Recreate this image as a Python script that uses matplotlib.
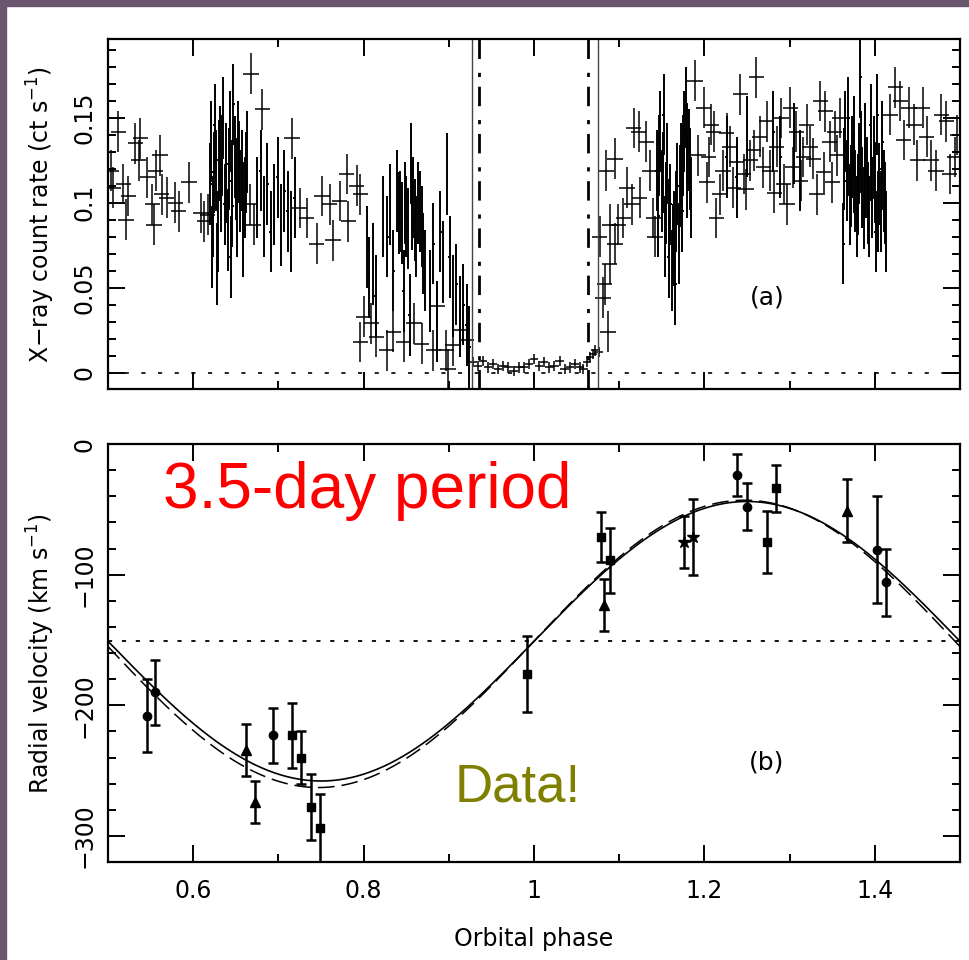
import numpy as np
import matplotlib
matplotlib.use("Agg")
import matplotlib.pyplot as plt
from matplotlib.patches import Rectangle
from matplotlib.ticker import MultipleLocator

plt.rcParams['font.family'] = ['DejaVu Sans']
plt.rcParams['lines.scale_dashes'] = False

# ---- panel (a): X-ray light curve ----
# sparse bins (wide crosses)
wide_phase = [0.504, 0.506, 0.512, 0.518, 0.521, 0.524, 0.532, 0.536, 0.538, 0.546,
              0.552, 0.554, 0.556, 0.561, 0.563, 0.569, 0.579, 0.583, 0.595, 0.609,
              0.613, 0.617, 0.668, 0.681, 0.667, 0.671, 0.716, 0.725, 0.733, 0.745,
              0.751, 0.760, 0.764, 0.772, 0.780, 0.782, 0.792, 0.796,
              0.796, 0.800, 0.809, 0.815, 0.827, 0.835, 0.847, 0.859, 0.868, 0.882,
              0.886, 0.897, 0.905, 0.913, 0.921, 0.899,
              1.077, 1.081, 1.083, 1.087, 1.089, 1.095, 1.089, 1.085, 1.095, 1.099,
              1.105, 1.109, 1.115, 1.117, 1.123, 1.124, 1.132, 1.136, 1.140, 1.142,
              1.189, 1.199, 1.205, 1.211, 1.214, 1.222, 1.230, 1.234, 1.242, 1.246,
              1.254, 1.261, 1.265, 1.273, 1.277, 1.285, 1.293, 1.297, 1.301, 1.308,
              1.316, 1.324, 1.332, 1.336, 1.342, 1.347, 1.353, 1.359,
              1.193, 1.203, 1.208, 1.218, 1.226, 1.238, 1.249, 1.258, 1.269, 1.282,
              1.290, 1.304, 1.313, 1.320, 1.328, 1.340, 1.350, 1.356,
              1.418, 1.424, 1.430, 1.434, 1.440, 1.446, 1.450, 1.456, 1.461, 1.466,
              1.472, 1.478, 1.484, 1.488, 1.494, 1.497]
wide_rate = [0.119, 0.109, 0.142, 0.111, 0.090, 0.104, 0.135, 0.125, 0.138, 0.115,
             0.099, 0.087, 0.119, 0.128, 0.105, 0.103, 0.100, 0.095, 0.112, 0.094,
             0.089, 0.093, 0.176, 0.155, 0.099, 0.087, 0.138, 0.097, 0.091, 0.076,
             0.104, 0.099, 0.078, 0.101, 0.117, 0.089, 0.110, 0.105,
             0.018, 0.033, 0.029, 0.021, 0.013, 0.024, 0.018, 0.029, 0.017, 0.013,
             0.039, 0.013, 0.016, 0.025, 0.019, 0.002,
             0.080, 0.044, 0.052, 0.024, 0.064, 0.076, 0.087, 0.119, 0.126, 0.087,
             0.091, 0.109, 0.099, 0.144, 0.142, 0.103, 0.136, 0.119, 0.091, 0.080,
             0.172, 0.156, 0.127, 0.142, 0.091, 0.119, 0.133, 0.109, 0.164, 0.117,
             0.125, 0.174, 0.139, 0.148, 0.119, 0.133, 0.111, 0.099, 0.156, 0.142,
             0.127, 0.133, 0.105, 0.160, 0.154, 0.136, 0.142, 0.150,
             0.128, 0.112, 0.146, 0.105, 0.141, 0.124, 0.108, 0.131, 0.121, 0.106,
             0.150, 0.121, 0.113, 0.146, 0.126, 0.118, 0.112, 0.128,
             0.152, 0.168, 0.160, 0.137, 0.156, 0.146, 0.125, 0.156, 0.139, 0.125,
             0.119, 0.152, 0.148, 0.117, 0.127, 0.140]

# dense bins (narrow crosses)
narrow_phase = [0.620, 0.621, 0.622, 0.623, 0.625, 0.627, 0.628, 0.629, 0.631, 0.633,
                0.635, 0.637, 0.639, 0.641, 0.643, 0.644, 0.645, 0.647, 0.649, 0.651,
                0.653, 0.655, 0.657, 0.659, 0.661, 0.663,
                0.624, 0.630, 0.634, 0.638, 0.642, 0.646, 0.650, 0.654, 0.658, 0.662,
                0.675, 0.679, 0.683, 0.687, 0.691, 0.695, 0.699, 0.703, 0.707, 0.711,
                0.715, 0.719,
                0.804, 0.806, 0.811, 0.814, 0.823, 0.828, 0.831, 0.835, 0.839, 0.843,
                0.847, 0.850, 0.854, 0.856, 0.858, 0.862, 0.866, 0.870, 0.872, 0.878,
                0.882, 0.886, 0.890, 0.893, 0.898, 0.901, 0.905, 0.909, 0.913, 0.917,
                0.921, 0.924,
                0.841, 0.845, 0.849, 0.852, 0.857, 0.860, 0.864, 0.868,
                1.144, 1.146, 1.148, 1.150, 1.152, 1.154, 1.156, 1.158, 1.160, 1.162,
                1.164, 1.166, 1.168, 1.170, 1.172, 1.174, 1.176, 1.178, 1.180, 1.182,
                1.184,
                1.147, 1.151, 1.155, 1.159, 1.163, 1.167, 1.171, 1.175, 1.179, 1.183,
                1.226, 1.238, 1.250, 1.281, 1.289, 1.305, 1.312,
                1.363, 1.365, 1.367, 1.369, 1.371, 1.373, 1.375, 1.377, 1.379, 1.381,
                1.383, 1.385, 1.387, 1.389, 1.391, 1.393, 1.395, 1.397, 1.399, 1.401,
                1.403, 1.405, 1.407, 1.409, 1.411, 1.413,
                1.364, 1.368, 1.372, 1.376, 1.380, 1.384, 1.388, 1.392, 1.396, 1.400,
                1.404, 1.408, 1.412]
narrow_rate = [0.111, 0.136, 0.074, 0.092, 0.146, 0.119, 0.064, 0.083, 0.133, 0.107,
               0.150, 0.099, 0.123, 0.084, 0.142, 0.068, 0.113, 0.158, 0.127, 0.092,
               0.136, 0.107, 0.119, 0.080, 0.103, 0.130,
               0.118, 0.125, 0.128, 0.112, 0.120, 0.098, 0.114, 0.124, 0.100, 0.118,
               0.103, 0.119, 0.092, 0.111, 0.083, 0.099, 0.115, 0.087, 0.107, 0.095,
               0.083, 0.103,
               0.074, 0.056, 0.064, 0.045, 0.092, 0.080, 0.099, 0.060, 0.107, 0.095,
               0.048, 0.092, 0.034, 0.123, 0.103, 0.080, 0.095, 0.070, 0.060, 0.048,
               0.076, 0.030, 0.083, 0.065, 0.117, 0.068, 0.045, 0.052, 0.033, 0.040,
               0.028, 0.015,
               0.094, 0.088, 0.100, 0.085, 0.096, 0.090, 0.100, 0.086,
               0.119, 0.092, 0.142, 0.107, 0.152, 0.080, 0.123, 0.068, 0.099, 0.060,
               0.083, 0.052, 0.111, 0.076, 0.123, 0.095, 0.142, 0.156, 0.115, 0.131,
               0.103,
               0.128, 0.118, 0.100, 0.090, 0.075, 0.095, 0.110, 0.128, 0.135, 0.120,
               0.127, 0.115, 0.139, 0.142, 0.127, 0.135, 0.119,
               0.076, 0.142, 0.113, 0.150, 0.099, 0.127, 0.139, 0.107, 0.092, 0.123,
               0.174, 0.109, 0.097, 0.135, 0.115, 0.092, 0.146, 0.103, 0.127, 0.083,
               0.152, 0.111, 0.095, 0.136, 0.107, 0.083,
               0.120, 0.128, 0.110, 0.118, 0.105, 0.130, 0.115, 0.100, 0.125, 0.112,
               0.095, 0.120, 0.100]

# eclipse bins
ecl_phase = [0.928, 0.934, 0.940, 0.946, 0.952, 0.958, 0.964, 0.970, 0.976, 0.982,
             0.988, 0.994, 1.000, 1.006, 1.012, 1.018, 1.024, 1.030, 1.036, 1.042,
             1.048, 1.054, 1.058, 1.062, 1.066, 1.069, 1.072, 1.076]
ecl_rate = [0.006, 0.004, 0.007, 0.003, 0.005, 0.002, 0.004, 0.003, 0.001, 0.003,
            0.003, 0.005, 0.008, 0.004, 0.006, 0.003, 0.004, 0.007, 0.002, 0.003,
            0.005, 0.003, 0.002, 0.006, 0.009, 0.011, 0.013, 0.012]

wide_dphase, wide_drate = 0.009, 0.012
narrow_dphase, narrow_drate = 0.0015, 0.024
ecl_dphase, ecl_drate = 0.005, 0.003

ingress_solid, egress_solid = 0.927, 1.075
ingress_dd, egress_dd = 0.935, 1.063

# ---- panel (b): radial velocities ----
circ_phase = [0.5454, 0.5556, 0.6937, 1.2382, 1.2500, 1.4026, 1.4131]
circ_vel = [-208, -190, -223, -24, -48, -81, -106]
circ_err = [28, 25, 21, 16, 18, 41, 26]

sq_phase = [0.7156, 0.7261, 0.7382, 0.7488, 0.9921, 1.0782, 1.0892, 1.2735, 1.2844]
sq_vel = [-223, -240, -278, -294, -176, -71, -89, -75, -34]
sq_err = [25, 20, 25, 26, 29, 19, 25, 24, 18]

tri_phase = [0.662, 0.673, 1.0818, 1.3669]
tri_vel = [-234, -274, -123, -51]
tri_err = [20, 16, 20, 24]

star_phase = [1.176, 1.1862]
star_vel = [-75, -71]
star_err = [20, 29]

# orbit fits
gamma, K = -151.0, 107.0
gamma_d, K_d, shift_d = -153.0, 110.0, 0.003

fig = plt.figure(figsize=(9.69, 9.6), dpi=100)
fig.patch.set_facecolor('white')
purple = '#6b566f'
fig.add_artist(Rectangle((0, 1 - 6 / 960), 1, 6 / 960, transform=fig.transFigure,
                         color=purple, zorder=0))
fig.add_artist(Rectangle((0, 0), 6 / 969, 1, transform=fig.transFigure,
                         color=purple, zorder=0))

ax1 = fig.add_axes([108 / 969, 1 - 389 / 960, 852 / 969, 350 / 960])
ax2 = fig.add_axes([108 / 969, 1 - 862 / 960, 852 / 969, 418 / 960])

ax1.errorbar(wide_phase, wide_rate, xerr=wide_dphase, yerr=wide_drate,
             fmt='none', ecolor='black', elinewidth=1.1)
ax1.errorbar(narrow_phase, narrow_rate, xerr=narrow_dphase, yerr=narrow_drate,
             fmt='none', ecolor='black', elinewidth=1.4)
ax1.errorbar(ecl_phase, ecl_rate, xerr=ecl_dphase, yerr=ecl_drate,
             fmt='none', ecolor='black', elinewidth=1.1)
ax1.axhline(0, color='black', lw=1.2, dashes=(3, 9))
for p in (ingress_solid, egress_solid):
    ax1.axvline(p, color='#444444', lw=1.0)
for p in (ingress_dd, egress_dd):
    ax1.axvline(p, color='black', lw=2.0, dashes=(14, 7, 3, 10))
ax1.text(1.2735, 0.044, '(a)', fontsize=18, ha='center', va='center')
ax1.set_xlim(0.5, 1.5)
ax1.set_ylim(-0.0097, 0.1965)
ax1.xaxis.set_major_locator(MultipleLocator(0.2))
ax1.xaxis.set_minor_locator(MultipleLocator(0.1))
ax1.yaxis.set_major_locator(MultipleLocator(0.05))
ax1.yaxis.set_minor_locator(MultipleLocator(0.01))
ax1.set_yticks([0, 0.05, 0.1, 0.15])
ax1.set_yticklabels(['0', '0.05', '0.1', '0.15'])
ax1.tick_params(labelbottom=False)
ax1.set_ylabel('X\u2212ray count rate (ct s$^{-1}$)', fontsize=17)

# fit curves
phase_grid = np.linspace(0.5, 1.5, 400)
v_solid = gamma + K * np.sin(2 * np.pi * (phase_grid - 1.0))
v_dash = gamma_d + K_d * np.sin(2 * np.pi * (phase_grid - 1.0 + shift_d))
ax2.plot(phase_grid, v_solid, color='black', lw=1.2)
ax2.plot(phase_grid, v_dash, color='black', lw=1.1, dashes=(12, 5))
ax2.axhline(gamma, color='black', lw=1.3, dashes=(3, 7))

ekw = dict(color='black', ecolor='black', elinewidth=1.8, capsize=3.5,
           capthick=1.8, linestyle='none')
ax2.errorbar(circ_phase, circ_vel, yerr=circ_err, marker='o', markersize=6, **ekw)
ax2.errorbar(sq_phase, sq_vel, yerr=sq_err, marker='s', markersize=6, **ekw)
ax2.errorbar(tri_phase, tri_vel, yerr=tri_err, marker='^', markersize=7, **ekw)
ax2.errorbar(star_phase, star_vel, yerr=star_err, marker='*', markersize=9, **ekw)
ax2.text(1.2735, -244, '(b)', fontsize=18, ha='center', va='center')
ax2.set_xlim(0.5, 1.5)
ax2.set_ylim(-320, 0)
ax2.xaxis.set_major_locator(MultipleLocator(0.2))
ax2.xaxis.set_minor_locator(MultipleLocator(0.1))
ax2.yaxis.set_major_locator(MultipleLocator(100))
ax2.yaxis.set_minor_locator(MultipleLocator(20))
ax2.set_xticks([0.6, 0.8, 1.0, 1.2, 1.4])
ax2.set_xticklabels(['0.6', '0.8', '1', '1.2', '1.4'])
ax2.set_yticks([-300, -200, -100, 0])
ax2.set_yticklabels(['\u2212300', '\u2212200', '\u2212100', '0'])
ax2.set_ylabel('Radial velocity (km s$^{-1}$)', fontsize=17)
ax2.set_xlabel('Orbital phase', fontsize=17)
ax2.xaxis.set_label_coords(0.5, -0.155)

for ax in (ax1, ax2):
    for s in ax.spines.values():
        s.set_linewidth(1.6)
    ax.tick_params(which='both', direction='in', top=True, right=True, width=1.4)
    ax.tick_params(which='major', length=12)
    ax.tick_params(which='minor', length=6)
    ax.tick_params(axis='y', labelrotation=90, labelsize=17, pad=8)
    ax.tick_params(axis='x', labelsize=17, pad=12)
    for lab in ax.get_yticklabels():
        lab.set_verticalalignment('center')
    ax.yaxis.set_label_coords(-0.06, 0.5)

fig.text(163 / 969, 1 - 508 / 960, '3.5-day period', color='#ff0000',
         fontsize=46, family='Liberation Sans', va='baseline', ha='left')
fig.text(455 / 969, 1 - 802 / 960, 'Data!', color='#808000',
         fontsize=38, family='Liberation Sans', va='baseline', ha='left')

fig.savefig('out.png', dpi=100)
